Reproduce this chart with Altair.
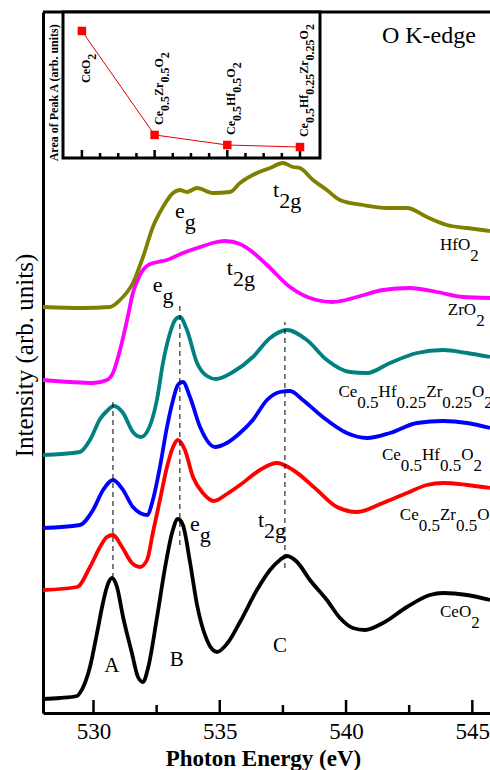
import re
import altair as alt
import pandas as pd

# ---------------- data: O K-edge spectra (energy eV, intensity arb. units, offset) -------------
ceo2_E = [528.00, 528.67, 529.35, 529.46, 529.86, 530.14, 530.34, 530.53, 530.73, 530.93, 531.17,
          531.52, 531.76, 531.96, 532.16, 532.51, 532.83, 533.11, 533.34, 533.54, 533.82, 534.10,
          534.49, 534.89, 535.28, 535.80, 536.47, 536.99, 537.38, 537.66, 538.06, 538.57, 539.24,
          539.76, 540.27, 540.75, 541.46, 542.41, 543.32, 543.84, 544.79, 545.70]
ceo2_I = [14, 15, 17, 20, 46, 80, 106, 126, 135, 126, 96,
          60, 36, 31, 45, 95, 145, 180, 194, 188, 151, 108,
          73, 61, 69, 91, 123, 143, 153, 157, 151, 133, 113,
          95, 85, 83, 90, 106, 118, 120, 118, 113]

cz_E = [528.00, 529.35, 529.86, 530.26, 530.53, 530.77, 531.13, 531.52, 531.84, 532.12, 532.35,
        532.63, 532.91, 533.15, 533.34, 533.62, 533.94, 534.33, 534.77, 535.28, 535.80, 536.59,
        537.26, 537.90, 538.85, 539.64, 540.43, 541.46, 542.41, 543.20, 543.84, 544.79, 545.70]
cz_I = [123, 126, 146, 166, 176, 178, 166, 150, 146, 153, 180,
        213, 246, 266, 273, 263, 236, 220, 212, 219, 228, 243,
        250, 243, 223, 206, 201, 210, 220, 228, 230, 228, 225]

ch_E = [528.00, 529.46, 529.98, 530.38, 530.77, 531.17, 531.56, 532.12, 532.35, 532.63, 532.91,
        533.15, 533.34, 533.54, 533.82, 534.22, 534.81, 535.28, 535.80, 536.31, 536.87, 537.38,
        537.78, 538.29, 539.08, 540.03, 540.83, 541.74, 542.81, 543.84, 544.79, 545.70]
ch_I = [185, 188, 203, 223, 233, 223, 206, 198, 213, 246, 286,
        313, 328, 331, 316, 286, 266, 270, 280, 293, 313, 321,
        322, 313, 296, 280, 275, 280, 290, 292, 290, 285]

chz_E = [528.00, 529.46, 529.86, 530.26, 530.53, 530.81, 531.17, 531.56, 531.88, 532.16, 532.51,
         532.75, 533.03, 533.23, 533.42, 533.70, 534.10, 534.49, 534.85, 535.52, 536.31, 536.99,
         537.66, 538.45, 539.24, 540.15, 540.83, 541.74, 542.81, 543.84, 544.79, 545.70]
chz_I = [258, 261, 273, 294, 302, 307, 300, 281, 276, 283, 313,
         350, 380, 393, 396, 383, 350, 337, 334, 341, 356, 375,
         383, 373, 353, 341, 340, 350, 360, 363, 360, 356]

zro2_E = [528.00, 529.07, 529.98, 530.53, 530.77, 531.05, 531.33, 531.56, 531.84, 532.24, 532.91,
          533.54, 534.22, 534.89, 535.21, 535.80, 536.19, 536.87, 537.78, 538.57, 539.48, 540.43,
          541.46, 542.53, 543.60, 544.63, 545.70]
zro2_I = [333, 331, 330, 333, 340, 363, 393, 420, 438, 449, 453,
          460, 466, 471, 472, 469, 463, 448, 426, 415, 411, 416,
          423, 425, 421, 416, 415]

hfo2_E = [528.00, 529.58, 530.65, 531.05, 531.56, 531.96, 532.35, 532.75, 533.15, 533.42, 533.70,
          534.10, 534.73, 535.40, 535.80, 536.47, 536.99, 537.50, 537.90, 538.17, 538.69, 539.24,
          539.76, 540.67, 541.62, 542.41, 543.20, 543.99, 544.79, 545.70]
hfo2_I = [406, 405, 406, 413, 430, 456, 486, 506, 520, 523, 521,
          525, 520, 521, 530, 540, 545, 550, 546, 545, 533, 523,
          513, 508, 505, 505, 496, 488, 485, 482]

series_names = ["CeO2", "Ce0.5Zr0.5O2", "Ce0.5Hf0.5O2", "Ce0.5Hf0.25Zr0.25O2", "ZrO2", "HfO2"]
series_colors = ["#000000", "#ff0000", "#0000ff", "#008080", "#ff00ff", "#808000"]
series_E = [ceo2_E, cz_E, ch_E, chz_E, zro2_E, hfo2_E]
series_I = [ceo2_I, cz_I, ch_I, chz_I, zro2_I, hfo2_I]

# dashed guide lines (peaks A, B, C)
guide_E = [530.77, 533.42, 537.58]
guide_top = [315, 408, 391]
guide_bottom = [135, 168, 145]

# inset: area of peak A
inset_names = ["CeO_{2}", "Ce_{0.5}Zr_{0.5}O_{2}", "Ce_{0.5}Hf_{0.5}O_{2}", "Ce_{0.5}Hf_{0.25}Zr_{0.25}O_{2}"]
inset_area = [0.87, 0.158, 0.089, 0.075]

# x-axis ticks
major_ticks = [530, 535, 540, 545]
minor_ticks = [532.5, 537.5, 542.5]

# ---------------- layout constants ----------------
W, H = 447, 701
XMIN, XMAX = 528.0, 545.7
YMIN, YMAX = 0.0, 701.0
PX_E = W / (XMAX - XMIN)
PX_I = H / (YMAX - YMIN)
FONT = "Liberation Serif"

# inset: its own linear axes mapped into a sub-rectangle of the main plot
IX_DOM = [-0.26, 3.275]
IX_PX = [20, 277]          # left/right of inset, px from plot left
IY_PX = 146                # inset height, px (top aligned to plot top)
PX_X = (IX_PX[1] - IX_PX[0]) / (IX_DOM[1] - IX_DOM[0])
PX_Y = IY_PX


def inset_E(k):
    return XMIN + (IX_PX[0] + (k - IX_DOM[0]) * PX_X) / PX_E


def inset_I(v):
    return YMAX - (IY_PX - v * PX_Y) / PX_I


REG = {'C': 667, 'e': 444, 'O': 722, 'H': 722, 'f': 333, 'Z': 611, 'r': 333, '0': 500, '.': 250,
       '5': 500, '2': 500, 'g': 500, 't': 278, 'A': 722, 'B': 667, ' ': 250, 'K': 722, '-': 333, 'd': 500}
BOLD = {'C': 722, 'e': 444, 'O': 778, 'H': 778, 'f': 333, 'Z': 667, 'r': 444, '0': 500, '.': 250,
        '5': 500, '2': 500, 'A': 722, ' ': 250, 'a': 500, 'o': 500, 'P': 611, 'k': 556, '(': 333,
        ')': 333, 'b': 556, 'u': 556, 'n': 556, 'i': 278, 't': 333, 's': 389}


def tw(text, size, table):
    return sum(table.get(c, 500) for c in text) * size / 1000.0


def tokens(markup):
    out = []
    for sub, base in re.findall(r'_\{([^}]*)\}|([^_]+)', markup):
        out.append((sub, True) if sub else (base, False))
    return out


# ---------------- main labels ----------------
main_labels = [
    ("O K-edge", 541.42, 670, 24),
    ("e_{g}", 533.23, 495, 22),
    ("t_{2g}", 537.11, 516, 22),
    ("e_{g}", 532.35, 421, 22),
    ("t_{2g}", 535.28, 438, 22),
    ("e_{g}", 533.82, 182, 22),
    ("t_{2g}", 536.51, 186, 22),
    ("HfO_{2}", 543.72, 463, 17),
    ("ZrO_{2}", 544.03, 398, 17),
    ("Ce_{0.5}Hf_{0.25}Zr_{0.25}O_{2}", 539.70, 316, 17),
    ("Ce_{0.5}Hf_{0.5}O_{2}", 541.42, 253, 17),
    ("Ce_{0.5}Zr_{0.5}O_{2}", 542.13, 193, 17),
    ("CeO_{2}", 543.72, 96, 17),
]
peak_letters = [("A", 530.73, 41), ("B", 533.30, 47), ("C", 537.38, 61)]
SUB = 11

rows = []
for markup, e0, i0, fs in main_labels:
    cum = 0.0
    for text, is_sub in tokens(markup):
        rows.append({"E": e0 + cum / PX_E, "I": i0 - (SUB if is_sub else 0) / PX_I, "t": text, "fs": fs})
        cum += tw(text, fs, REG)
for letter, ec, i0 in peak_letters:
    rows.append({"E": ec - tw(letter, 21, REG) / 2 / PX_E, "I": i0, "t": letter, "fs": 21})
label_df = pd.DataFrame(rows)

# ---------------- inset labels (rotated, bold) ----------------
IFS = 12
irows = []
for k, (markup, val) in enumerate(zip(inset_names, inset_area)):
    gap = -52 if k == 0 else 10
    x0 = k + 8 / PX_X
    y0 = val + gap / PX_Y
    cum = 0.0
    for text, is_sub in tokens(markup):
        irows.append({"E": inset_E(x0 + (6 / PX_X if is_sub else 0)),
                      "I": inset_I(y0 + cum / PX_Y), "t": text})
        cum += tw(text, IFS, BOLD)
ititle = "Area of Peak A (arb. units)"
irows.append({"E": inset_E(IX_DOM[0] - 5 / PX_X),
              "I": inset_I(0.452 - tw(ititle, IFS, BOLD) / 2 / PX_Y), "t": ititle})
inset_label_df = pd.DataFrame(irows)

# ---------------- dataframes (all share field names E/I for x/y) ----------------
curve_df = pd.concat([
    pd.DataFrame({"E": e, "I": i, "s": n, "o": range(len(e))})
    for n, e, i in zip(series_names, series_E, series_I)
])
guide_df = pd.DataFrame({"E": guide_E, "I": guide_bottom, "I2": guide_top})
tick_df = pd.DataFrame({"E": major_ticks + minor_ticks,
                        "I": [0] * (len(major_ticks) + len(minor_ticks)),
                        "I2": [13] * len(major_ticks) + [8] * len(minor_ticks)})
top_df = pd.DataFrame({"E": [XMIN], "E2": [XMAX], "I": [YMAX]})

inset_df = pd.DataFrame({"E": [inset_E(k) for k in range(len(inset_area))],
                         "I": [inset_I(v) for v in inset_area]})
itick_vals = [j * 0.25 for j in range(13)]
itick_df = pd.DataFrame({"E": [inset_E(v) for v in itick_vals],
                         "I": [inset_I(0)] * 13,
                         "I2": [inset_I((8 if abs(v - round(v)) < 1e-9 else 5) / PX_Y) for v in itick_vals]})
iframe_df = pd.DataFrame({"E": [inset_E(IX_DOM[0])], "E2": [inset_E(IX_DOM[1])],
                          "I": [inset_I(0)], "I2": [inset_I(1)]})

# ---------------- chart ----------------
xs = alt.Scale(domain=[XMIN, XMAX], nice=False, zero=False)
ys = alt.Scale(domain=[YMIN, YMAX], nice=False, zero=False)

x_axis = alt.Axis(values=major_ticks, format="d", ticks=False, grid=False,
                  domainColor="black", domainWidth=3, labelFont=FONT, labelFontSize=23,
                  labelColor="black", labelPadding=7, labelFlush=False,
                  title="Photon Energy (eV)", titleFont=FONT, titleFontSize=23,
                  titleFontWeight="bold", titleColor="black", titleX=220, titleY=52,
                  titleBaseline="alphabetic", titleAlign="center")
y_axis = alt.Axis(labels=False, ticks=False, grid=False, domainColor="black",
                  domainWidth=3, title="Intensity (arb. units)", titleFont=FONT, titleFontSize=25,
                  titleFontWeight="normal", titleColor="black", titleAngle=270, titleX=-11,
                  titleY=343, titleBaseline="alphabetic", titleAlign="center")

X = alt.X("E:Q", scale=xs, axis=x_axis)
Y = alt.Y("I:Q", scale=ys, axis=y_axis)

curves = alt.Chart(curve_df).mark_line(strokeWidth=3.8, interpolate="monotone").encode(
    x=X, y=Y,
    color=alt.Color("s:N", scale=alt.Scale(domain=series_names, range=series_colors), legend=None),
    order="o:Q",
)
guides = alt.Chart(guide_df).mark_rule(color="black", strokeWidth=1, strokeDash=[5, 4]).encode(
    x=X, y=Y, y2="I2:Q")
ticks = alt.Chart(tick_df).mark_rule(color="black", strokeWidth=2.5).encode(
    x=X, y=Y, y2="I2:Q")
top_border = alt.Chart(top_df).mark_rule(color="black", strokeWidth=3).encode(
    x=X, x2="E2:Q", y=Y)
labels = alt.Chart(label_df).mark_text(font=FONT, align="left", baseline="alphabetic", color="black").encode(
    x=X, y=Y, text="t:N",
    size=alt.Size("fs:Q", scale=None, legend=None),
)
iframe = alt.Chart(iframe_df).mark_rect(fill="white", stroke="black", strokeWidth=3).encode(
    x=X, x2="E2:Q", y=Y, y2="I2:Q")
iticks = alt.Chart(itick_df).mark_rule(color="black", strokeWidth=2.5).encode(
    x=X, y=Y, y2="I2:Q")
iline = alt.Chart(inset_df).mark_line(color="#e00000", strokeWidth=1).encode(x=X, y=Y)
ipoints = alt.Chart(inset_df).mark_square(color="#ff0000", size=72, opacity=1).encode(x=X, y=Y)
ilabels = alt.Chart(inset_label_df).mark_text(font=FONT, fontWeight="bold", fontSize=IFS, angle=270,
                                               align="left", baseline="alphabetic", color="black").encode(
    x=X, y=Y, text="t:N")

chart = alt.layer(curves, guides, ticks, top_border, labels, iframe, iticks, iline, ipoints, ilabels).properties(
    width=W, height=H,
    background="white",
    autosize=alt.AutoSizeParams(type="none"),
    padding={"left": 43, "top": 12, "right": 0, "bottom": 57},
).configure_view(stroke=None)

chart.save("out.html", embed_options={"renderer": "svg", "actions": False})
